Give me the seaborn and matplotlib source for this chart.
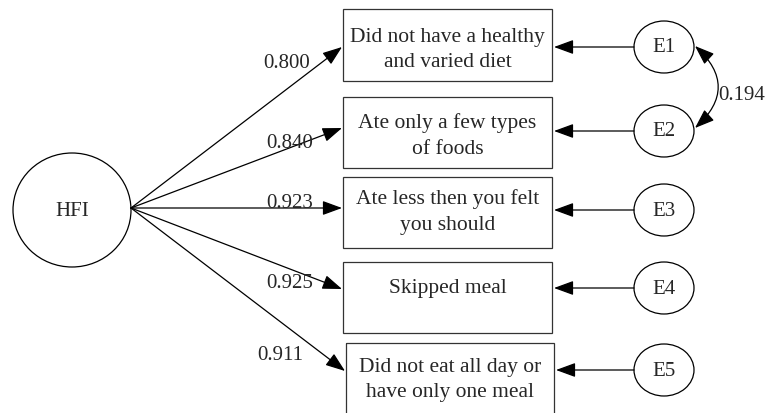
import matplotlib
matplotlib.use("Agg")
import matplotlib.pyplot as plt
import seaborn as sns
from matplotlib.patches import Ellipse, Rectangle

# path diagram values
latent = "HFI"
items = [
    "Did not have a healthy\nand varied diet",
    "Ate only a few types\nof foods",
    "Ate less then you felt\nyou should",
    "Skipped meal",
    "Did not eat all day or\nhave only one meal",
]
loadings = [0.800, 0.840, 0.923, 0.925, 0.911]
errors = ["E1", "E2", "E3", "E4", "E5"]
error_cov = 0.194

# layout (pixel space, y downwards)
hfi_xy = (72, 210)
box_left = [343, 343, 343, 343, 346]
box_right = [552, 552, 552, 552, 554]
box_top = [9, 97, 177, 262, 343]
box_bottom = [81, 168, 248, 333, 420]
text_y = [50, 136, 212, 288, 380]
err_y = [47, 131, 210, 288, 370]
tip_y = [47, 128, 208, 289, 371]
label_xy = [(287, 63), (290, 143), (290, 203), (290, 284), (280, 356)]

sns.set_theme(style="white")
plt.rcParams["font.family"] = ["Liberation Serif", "DejaVu Serif"]

fig = plt.figure(figsize=(7.73, 4.13), dpi=100)
ax = fig.add_axes([0, 0, 1, 1])
ax.set_xlim(0, 773)
ax.set_ylim(413, 0)
ax.axis("off")

lw = 0.9
fs = 15
fs_box = 15.5
head = "-|>,head_length=0.6,head_width=0.22"

ax.add_patch(Ellipse(hfi_xy, 118, 114, fill=False, lw=lw, ec="black"))
ax.text(hfi_xy[0], hfi_xy[1] + 1, latent, ha="center", va="center", fontsize=fs)
origin = (131, 208)

for i, item in enumerate(items):
    ax.add_patch(Rectangle((box_left[i], box_top[i]), box_right[i] - box_left[i],
                           box_bottom[i] - box_top[i], fill=False, lw=lw, ec="#333333"))
    ax.text((box_left[i] + box_right[i]) / 2, text_y[i], item, ha="center", va="center",
            fontsize=fs_box, linespacing=1.45)
    # loading arrow
    ax.annotate("", xy=(box_left[i] - 1, tip_y[i]), xytext=origin,
                arrowprops=dict(arrowstyle=head, mutation_scale=20, lw=lw, color="black",
                                shrinkA=0, shrinkB=0))
    ax.text(label_xy[i][0], label_xy[i][1], f"{loadings[i]:.3f}", ha="center", va="center",
            fontsize=fs)
    # error term
    ax.add_patch(Ellipse((664, err_y[i]), 60, 52, fill=False, lw=lw, ec="black"))
    ax.text(664, err_y[i] + 1, errors[i], ha="center", va="center", fontsize=fs)
    ax.annotate("", xy=(box_right[i] + 2, err_y[i]), xytext=(634, err_y[i]),
                arrowprops=dict(arrowstyle=head, mutation_scale=20, lw=lw, color="black",
                                shrinkA=0, shrinkB=0))

# covariance between E1 and E2
ax.annotate("", xy=(695, 128), xytext=(695, 46),
            arrowprops=dict(arrowstyle="<|-|>,head_length=0.6,head_width=0.22",
                            mutation_scale=20, lw=lw, color="black",
                            connectionstyle="arc3,rad=-0.55", shrinkA=0, shrinkB=0))
ax.text(742, 95, f"{error_cov:.3f}", ha="center", va="center", fontsize=fs)

fig.savefig("out.png", dpi=100)
